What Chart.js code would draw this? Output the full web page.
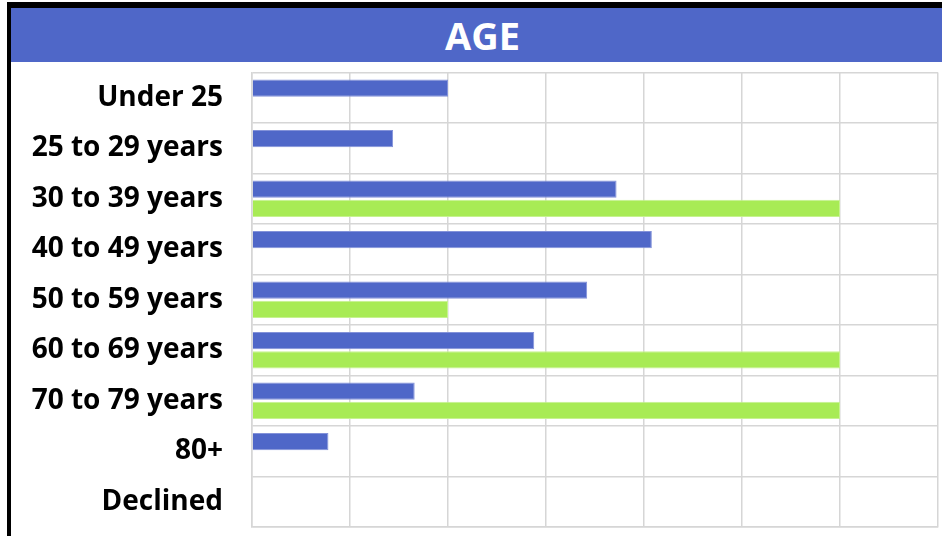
<!DOCTYPE html>
<html lang="en">
<head>
  <meta charset="utf-8" />
  <title>Age</title>
  <script src="https://cdn.jsdelivr.net/npm/chart.js@4.4.1/dist/chart.umd.min.js"></script>
  <style>
    html, body { margin: 0; padding: 0; background: #fff; overflow: hidden; }
    body { width: 942px; height: 536px; position: relative; font-family: 'Open Sans', sans-serif; }
    /* black frame on top and left, like the cropped slide */
    #frame {
      position: absolute; left: 7px; top: 2px; width: 960px; height: 560px;
      border-left: 4px solid #000; border-top: 6px solid #000;
    }
    #title {
      position: absolute; left: 11px; top: 8px; width: 943px; height: 54px;
      background: #4F67C8; color: #fff; font-weight: 700; font-size: 38px;
      line-height: 54px; text-align: center;
    }
    #chartBox { position: absolute; left: 11px; top: 62px; width: 931px; height: 474px; }
  </style>
</head>
<body>
<div id="frame"></div>
<div id="title">AGE</div>
<div id="chartBox"><canvas id="ageChart"></canvas></div>

<script>
// chart data (percent of respondents)
const categories = ['Under 25', '25 to 29 years', '30 to 39 years', '40 to 49 years',
  '50 to 59 years', '60 to 69 years', '70 to 79 years', '80+', 'Declined'];
const blueValues  = [10, 7.2, 18.6, 20.4, 17.1, 14.4, 8.3, 3.9, null];
const greenValues = [null, null, 30, null, 10, 30, 30, null, null];
const xMin = 0, xMax = 35, xStep = 5;

const BLUE = '#4F67C8';
const GREEN = '#A8EB55';
const GRID = '#D6D6D6';

window.addEventListener('load', () => {
  const ctx = document.getElementById('ageChart').getContext('2d');
  new Chart(ctx, {
    type: 'bar',
    data: {
      labels: categories,
      datasets: [
        {
          label: 'Series 1',
          data: blueValues,
          backgroundColor: BLUE,
          borderColor: '#8392D9',
          borderWidth: 1,
          categoryPercentage: 0.76,
          barPercentage: 0.9
        },
        {
          label: 'Series 2',
          data: greenValues,
          backgroundColor: GREEN,
          borderColor: '#C6F290',
          borderWidth: 1,
          categoryPercentage: 0.76,
          barPercentage: 0.9
        }
      ]
    },
    options: {
      indexAxis: 'y',
      responsive: true,
      maintainAspectRatio: false,
      animation: false,
      layout: { padding: { top: 10.5, right: 4, bottom: 9, left: 0 } },
      plugins: { legend: { display: false }, tooltip: { enabled: false } },
      scales: {
        x: {
          min: xMin, max: xMax,
          ticks: { stepSize: xStep, display: false },
          grid: { color: GRID, lineWidth: 1.5, drawTicks: false },
          border: { color: GRID, width: 1.5 }
        },
        y: {
          ticks: {
            color: '#000',
            padding: 29,
            font: { family: "'Open Sans'", size: 28, weight: 'bold' }
          },
          grid: { color: GRID, lineWidth: 1.5, drawTicks: false },
          border: { color: GRID, width: 1.5 },
          afterFit: (scale) => {
            // fixed label column; tick padding should not push the plot down
            scale.width = 241;
            scale.paddingTop = 0;
            scale.paddingBottom = 0;
          }
        }
      }
    }
  });
});
</script>
</body>
</html>
